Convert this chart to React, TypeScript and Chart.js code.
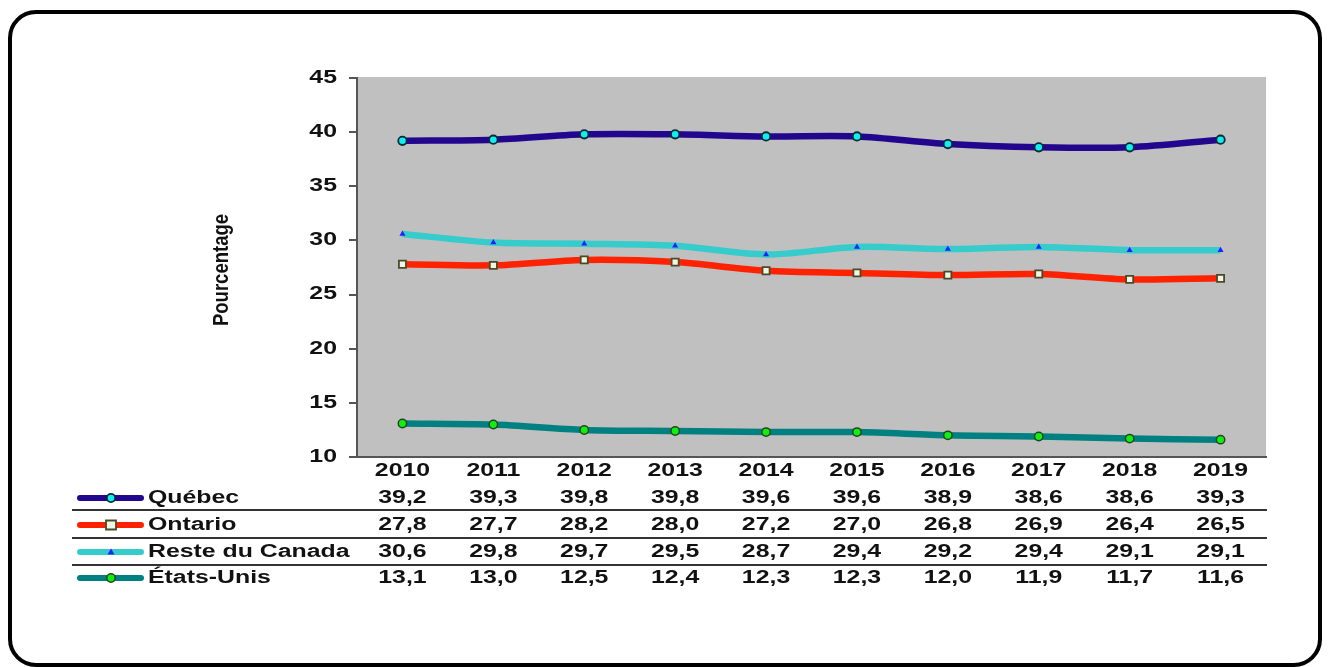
import React, { useEffect, useRef } from "react";
import { Chart, registerables } from "chart.js";

Chart.register(...registerables);

const years = ["2010", "2011", "2012", "2013", "2014", "2015", "2016", "2017", "2018", "2019"];
const seriesNames = ["Québec", "Ontario", "Reste du Canada", "États-Unis"];
const quebec = [39.2, 39.3, 39.8, 39.8, 39.6, 39.6, 38.9, 38.6, 38.6, 39.3];
const ontario = [27.8, 27.7, 28.2, 28.0, 27.2, 27.0, 26.8, 26.9, 26.4, 26.5];
const resteCanada = [30.6, 29.8, 29.7, 29.5, 28.7, 29.4, 29.2, 29.4, 29.1, 29.1];
const etatsUnis = [13.1, 13.0, 12.5, 12.4, 12.3, 12.3, 12.0, 11.9, 11.7, 11.6];
const yTickValues = [10, 15, 20, 25, 30, 35, 40, 45];
const yTitle = "Pourcentage";

const FONT = '"Liberation Sans", Arial, sans-serif';
const SX = 1.42;

const styles = [
  { line: "#22078e", pt: "#11eeee", ptBorder: "#0a2a3a", style: "circle", r: 4.2, bw: 1.8 },
  { line: "#ff2200", pt: "#eef6e6", ptBorder: "#4a4a28", style: "rect", r: 5, bw: 1.8 },
  { line: "#36cccc", pt: "#2222ff", ptBorder: "#2222ff", style: "triangle", r: 3.5, bw: 0 },
  { line: "#008080", pt: "#11ee11", ptBorder: "#224422", style: "circle", r: 4.2, bw: 1.5 },
];

function sText(ctx: CanvasRenderingContext2D, text: string, x: number, y: number, align: CanvasTextAlign) {
  ctx.save();
  ctx.translate(x, y);
  ctx.scale(SX, 1);
  ctx.textAlign = align;
  ctx.textBaseline = "middle";
  ctx.fillText(text, 0, 0);
  ctx.restore();
}

function drawMarker(ctx: CanvasRenderingContext2D, s: any, x: number, y: number) {
  ctx.save();
  ctx.fillStyle = s.pt;
  ctx.strokeStyle = s.ptBorder;
  ctx.lineWidth = s.bw;
  ctx.beginPath();
  if (s.style === "circle") {
    ctx.arc(x, y, s.r, 0, Math.PI * 2);
  } else if (s.style === "rect") {
    ctx.rect(x - s.r, y - s.r * 0.9, s.r * 2, s.r * 1.8);
  } else {
    ctx.moveTo(x, y - s.r);
    ctx.lineTo(x + s.r, y + s.r * 0.7);
    ctx.lineTo(x - s.r, y + s.r * 0.7);
    ctx.closePath();
  }
  ctx.fill();
  if (s.bw > 0) ctx.stroke();
  ctx.restore();
}

const decorPlugin = {
  id: "decor",
  beforeDraw(chart: any) {
    const { ctx, chartArea } = chart;
    ctx.save();
    ctx.fillStyle = "#ffffff";
    ctx.fillRect(0, 0, chart.width, chart.height);
    ctx.fillStyle = "#c0c0c0";
    ctx.fillRect(chartArea.left, chartArea.top - 1, chartArea.right - chartArea.left, chartArea.bottom - chartArea.top + 1);
    ctx.restore();
  },
  afterDraw(chart: any) {
    const { ctx, chartArea } = chart;
    const xs = chart.scales.x;
    const ys = chart.scales.y;
    ctx.save();
    ctx.fillStyle = "#111111";
    ctx.font = `bold 17.5px ${FONT}`;
    yTickValues.forEach((v) => {
      sText(ctx, String(v), 337, ys.getPixelForValue(v), "right");
    });
    years.forEach((yr, i) => {
      sText(ctx, yr, xs.getPixelForValue(i), 471, "center");
    });
    const rowsY = [498, 525, 552, 578];
    const all = [quebec, ontario, resteCanada, etatsUnis];
    all.forEach((arr, r) => {
      const y = rowsY[r];
      const s = styles[r];
      ctx.save();
      ctx.strokeStyle = s.line;
      ctx.lineWidth = 6;
      ctx.lineCap = "round";
      ctx.beginPath();
      ctx.moveTo(80, y);
      ctx.lineTo(141, y);
      ctx.stroke();
      ctx.restore();
      drawMarker(ctx, s, 111, y);
      ctx.fillStyle = "#111111";
      ctx.font = `bold 17.5px ${FONT}`;
      sText(ctx, seriesNames[r], 148, y, "left");
      arr.forEach((v, i) => {
        sText(ctx, v.toFixed(1).replace(".", ","), xs.getPixelForValue(i), y, "center");
      });
    });
    ctx.strokeStyle = "#333333";
    ctx.lineWidth = 2;
    [510, 538, 565].forEach((y) => {
      ctx.beginPath();
      ctx.moveTo(72, y);
      ctx.lineTo(chartArea.right + 1, y);
      ctx.stroke();
    });
    ctx.save();
    ctx.translate(222, 270);
    ctx.rotate(-Math.PI / 2);
    ctx.scale(1, 1.15);
    ctx.font = `bold 18.5px ${FONT}`;
    ctx.fillStyle = "#111111";
    ctx.textAlign = "center";
    ctx.textBaseline = "middle";
    ctx.fillText(yTitle, 0, 0);
    ctx.restore();
    ctx.strokeStyle = "#000000";
    ctx.lineWidth = 4;
    ctx.beginPath();
    (ctx as any).roundRect(10, 12, 1310, 653, 26);
    ctx.stroke();
    ctx.restore();
  },
};

export default function App() {
  const ref = useRef<HTMLCanvasElement>(null);
  useEffect(() => {
    if (!ref.current) return;
    const data = [quebec, ontario, resteCanada, etatsUnis];
    const chart = new Chart(ref.current, {
      type: "line",
      data: {
        labels: years,
        datasets: data.map((arr, i) => ({
          label: seriesNames[i],
          data: arr,
          borderColor: styles[i].line,
          backgroundColor: styles[i].line,
          borderWidth: 6.5,
          tension: 0.3,
          fill: false,
          pointStyle: styles[i].style as any,
          pointRadius: styles[i].r,
          pointBackgroundColor: styles[i].pt,
          pointBorderColor: styles[i].ptBorder,
          pointBorderWidth: styles[i].bw,
        })),
      },
      options: {
        animation: false,
        responsive: false,
        maintainAspectRatio: false,
        devicePixelRatio: 1,
        layout: { padding: { left: 347, right: 62, top: 78, bottom: 200 } },
        plugins: { legend: { display: false }, tooltip: { enabled: false } },
        scales: {
          x: {
            type: "category",
            offset: true,
            grid: { display: false },
            border: { display: true, color: "#555555", width: 2 },
            ticks: { display: false },
            afterFit: (s: any) => { s.height = 10; },
          },
          y: {
            min: 10,
            max: 45,
            ticks: { display: false, stepSize: 5 },
            grid: { display: true, drawOnChartArea: false, drawTicks: true, tickLength: 8, color: "#555555", lineWidth: 2 },
            border: { display: true, color: "#555555", width: 2 },
            afterFit: (s: any) => { s.width = 10; },
          },
        },
      },
      plugins: [decorPlugin],
    });
    return () => chart.destroy();
  }, []);
  return (
    <div style={{ position: "absolute", left: 0, top: 0, width: 1328, height: 667 }}>
      <canvas ref={ref} width={1328} height={667} style={{ width: 1328, height: 667, display: "block" }} />
    </div>
  );
}
